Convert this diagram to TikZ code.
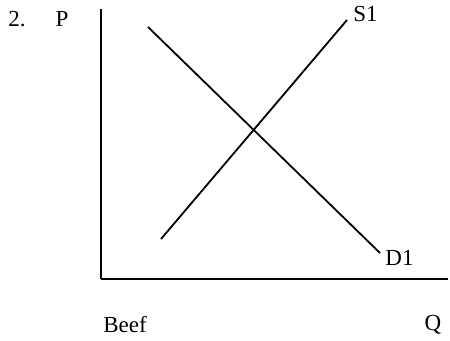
\documentclass[tikz,border=0pt]{standalone}
\usepackage{fontspec}
\setmainfont{Liberation Serif}
\begin{document}
\begin{tikzpicture}[x=0.5pt,y=-0.5pt,font=\fontsize{11.5}{13}\selectfont]
\useasboundingbox (0,0) rectangle (450,341);
% axes
\coordinate (top) at (101,9);
\coordinate (origin) at (101,279);
\coordinate (right) at (448,279);
\draw[line width=1.4pt] (top) -- (origin);
\draw[line width=1pt] (origin) -- (right);
% demand and supply
\coordinate (d0) at (148,27);
\coordinate (d1) at (380,253);
\coordinate (s0) at (161,239);
\coordinate (s1) at (347,20);
\draw[line width=0.9pt] (d0) -- (d1);
\draw[line width=0.9pt] (s0) -- (s1);
\node[right, inner sep=1pt] (slab) at (351,14) {S1};
\node[right, inner sep=1pt] (dlab) at (383,258) {D1};
\node (num) at (17,19) {2.};
\node (plab) at (62,19) {P};
\node[right, inner sep=0pt] (good) at (103,325) {Beef};
\node (qlab) at (433,325) {Q};
\end{tikzpicture}
\end{document}
